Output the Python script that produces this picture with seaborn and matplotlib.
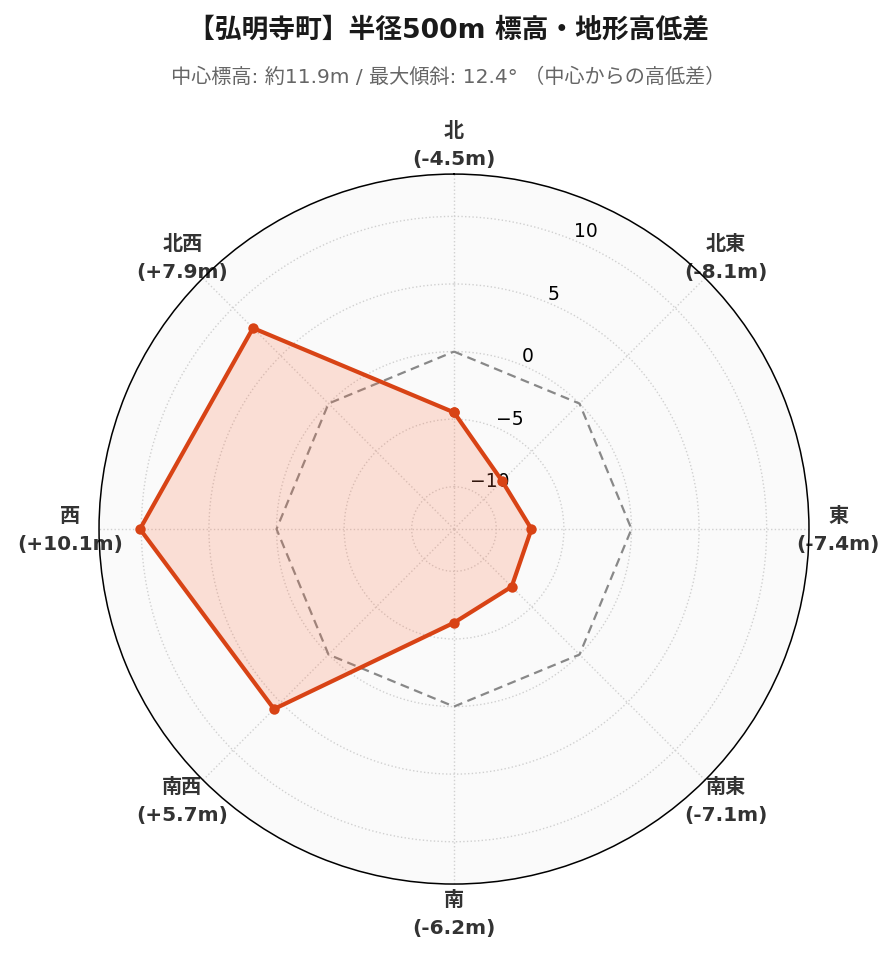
import numpy as np
import pandas as pd
import matplotlib
matplotlib.use("Agg")
import matplotlib.pyplot as plt
import seaborn as sns

# data
directions = ["北", "北東", "東", "南東", "南", "南西", "西", "北西"]
diffs = [-4.5, -8.1, -7.4, -7.1, -6.2, 5.7, 10.1, 7.9]
rticks = [-10, -5, 0, 5, 10]
title = "【弘明寺町】半径500m 標高・地形高低差"
subtitle = "中心標高: 約11.9m / 最大傾斜: 12.4° （中心からの高低差）"

sns.set_theme(style="white")
plt.rcParams["font.family"] = ["DejaVu Sans", "Noto Sans CJK JP"]
plt.rcParams["axes.unicode_minus"] = True

angles = np.linspace(0, 2 * np.pi, len(directions), endpoint=False)
df = pd.DataFrame({"theta": np.append(angles, angles[0]),
                   "diff": diffs + diffs[:1]})
zero = pd.DataFrame({"theta": np.append(angles, angles[0]),
                     "diff": np.zeros(len(angles) + 1)})

fig = plt.figure(figsize=(8.96, 9.62), dpi=100)
ax = fig.add_axes([0.1105, 0.080, 0.7924, 0.738], projection="polar")
ax.set_theta_offset(np.pi / 2)
ax.set_theta_direction(-1)
ax.set_facecolor("#fafafa")

lim = max(abs(v) for v in diffs) * 1.3
ax.set_ylim(-lim, lim)

# zero reference
ax.plot(zero["theta"], zero["diff"], color="#888888", lw=1.6, ls=(0, (4, 2.5)), zorder=2)

# main series
ax.fill(df["theta"], df["diff"], color="#ff7043", alpha=0.2, zorder=3)
sns.lineplot(data=df, x="theta", y="diff", sort=False, estimator=None,
             color="#d84315", lw=3, marker="o", markersize=7.5,
             markeredgewidth=0, ax=ax, zorder=4)
ax.set_xlabel("")
ax.set_ylabel("")

ax.set_xticks(angles)
ax.set_xticklabels([f"{d}\n({v:+.1f}m)".replace("+-", "-") for d, v in zip(directions, diffs)],
                   fontsize=14.5, fontweight="bold", color="#333333", linespacing=1.6)
ax.tick_params(axis="x", pad=8)
ax.set_yticks(rticks)
ax.tick_params(axis="y", labelsize=13.5, labelcolor="black")
ax.set_rlabel_position(22.5)
for lbl in ax.get_yticklabels():
    lbl.set_zorder(6)

ax.grid(True, color="#d0d0d0", ls=":", lw=1)
ax.spines["polar"].set_color("black")
ax.spines["polar"].set_linewidth(1.1)

fig.text(0.5, 0.968, title, ha="center", va="center", fontsize=19.3, fontweight="bold", color="#1a1a1a")
fig.text(0.5, 0.920, subtitle, ha="center", va="center", fontsize=14.5, color="#666666")

fig.savefig("out.png", dpi=100)
